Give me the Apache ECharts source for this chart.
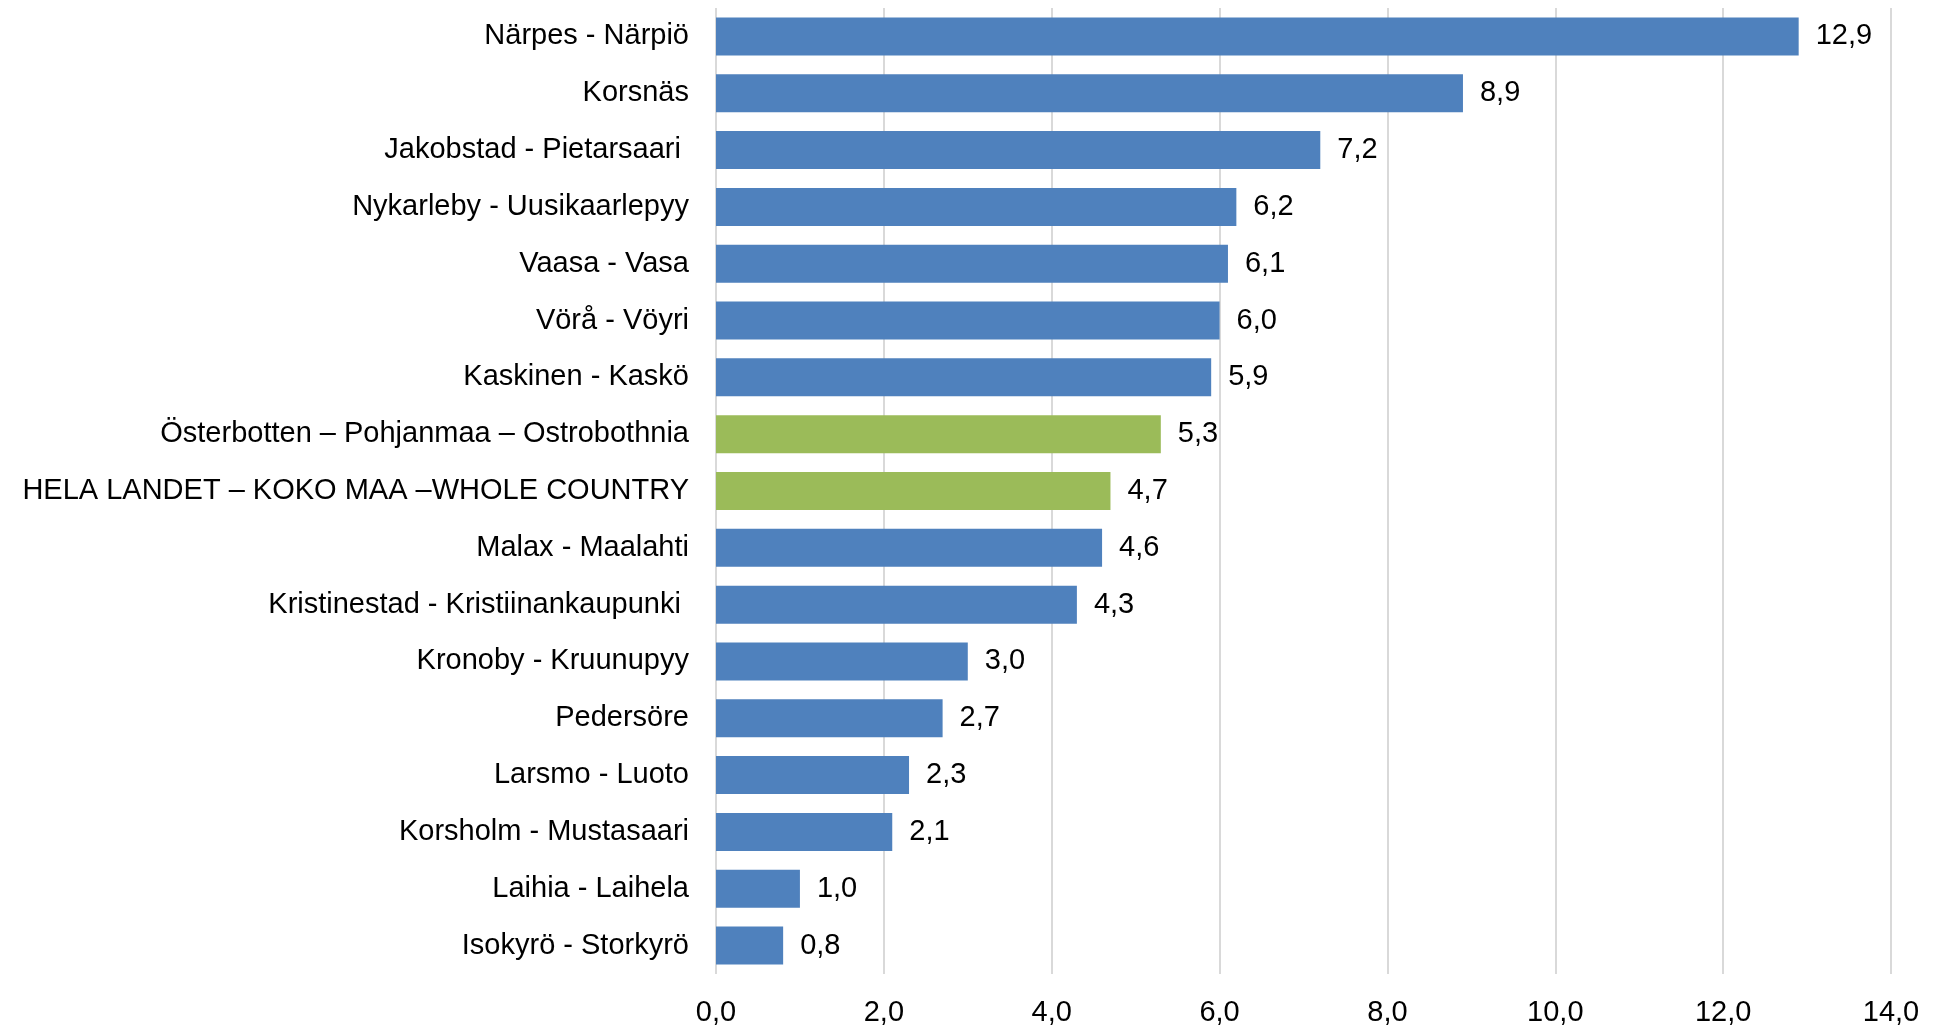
<!DOCTYPE html>
<html>
<head>
<meta charset="utf-8">
<script src="https://cdn.jsdelivr.net/npm/echarts@6/dist/echarts.min.js"></script>
<style>
html,body{margin:0;padding:0;background:#fff;}
#chart{width:1937px;height:1027px;}
</style>
</head>
<body>
<div id="chart"></div>
<script>
const categories = [
  "Närpes - Närpiö",
  "Korsnäs",
  "Jakobstad - Pietarsaari ",
  "Nykarleby - Uusikaarlepyy",
  "Vaasa - Vasa",
  "Vörå - Vöyri",
  "Kaskinen - Kaskö",
  "Österbotten – Pohjanmaa – Ostrobothnia",
  "HELA LANDET – KOKO MAA –WHOLE COUNTRY",
  "Malax - Maalahti",
  "Kristinestad - Kristiinankaupunki ",
  "Kronoby - Kruunupyy",
  "Pedersöre",
  "Larsmo - Luoto",
  "Korsholm - Mustasaari",
  "Laihia - Laihela",
  "Isokyrö - Storkyrö"
];
const values = [12.9, 8.9, 7.2, 6.2, 6.1, 6.0, 5.9, 5.3, 4.7, 4.6, 4.3, 3.0, 2.7, 2.3, 2.1, 1.0, 0.8];
const highlighted = ["Österbotten – Pohjanmaa – Ostrobothnia", "HELA LANDET – KOKO MAA –WHOLE COUNTRY"];
const baseColor = "#4F81BD";
const highlightColor = "#9BBB59";

const seriesData = values.map((v, i) => ({
  value: v,
  itemStyle: { color: highlighted.includes(categories[i]) ? highlightColor : baseColor }
}));

const fmt = v => Number(v).toFixed(1).replace('.', ',');
const font = "'Liberation Sans', Arial, sans-serif";

const chart = echarts.init(document.getElementById('chart'));
chart.setOption({
  animation: false,
  backgroundColor: '#fff',
  grid: { left: 716, right: 46, top: 8, bottom: 53, containLabel: false },
  xAxis: {
    type: 'value',
    min: 0, max: 14, interval: 2,
    axisLine: { show: false },
    axisTick: { show: false },
    splitLine: { show: true, lineStyle: { color: '#D9D9D9', width: 2 } },
    axisLabel: { formatter: fmt, color: '#000', fontSize: 29, fontFamily: font, margin: 24 }
  },
  yAxis: {
    type: 'category',
    data: categories,
    inverse: true,
    axisLine: { show: false },
    axisTick: { show: false },
    axisLabel: { color: '#000', fontSize: 29, fontFamily: font, margin: 27, padding: [6, 0, 0, 0] }
  },
  series: [{
    type: 'bar',
    data: seriesData,
    barWidth: 38,
    label: {
      show: true, position: 'right', distance: 17,
      formatter: p => fmt(p.value),
      color: '#000', fontSize: 29, fontFamily: font, padding: [6, 0, 0, 0]
    }
  }]
});
</script>
</body>
</html>
